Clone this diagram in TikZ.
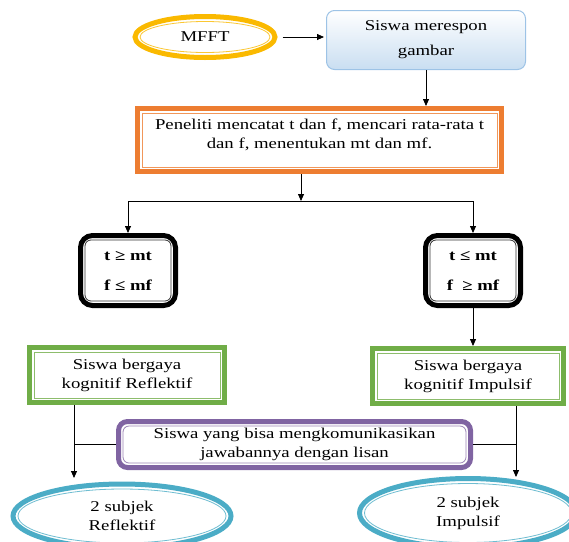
\documentclass[tikz,border=0pt]{standalone}
\usepackage{fontspec}
\setmainfont{Liberation Serif}[FakeStretch=1.25]
\usepackage{xcolor}
\usetikzlibrary{arrows.meta, positioning, calc, shapes.geometric}
\definecolor{kuning}{RGB}{250,185,0}
\definecolor{oranye}{RGB}{237,125,49}
\definecolor{hijau}{RGB}{112,173,71}
\definecolor{ungu}{RGB}{128,100,162}
\definecolor{biru}{RGB}{75,172,198}
\definecolor{birumuda}{RGB}{157,195,230}

\begin{document}
\begin{tikzpicture}[x=1pt, y=-1pt,
  every node/.style={font=\fontsize{15}{19}\selectfont, align=center},
  panah/.style={-{Triangle[length=7pt,width=6pt]}, line width=0.8pt},
  kotak/.style={rectangle, line width=5pt, fill=white, inner sep=2pt},
  oval/.style={ellipse, line width=5pt, fill=white, inner sep=0pt}]
  \clip (0,0) rectangle (569,541);
  % MFFT oval
  \node[oval, draw=kuning, minimum width=140pt, minimum height=41pt] (mfft) at (205,37) {MFFT};
  % Siswa merespon (gradient box)
  \node[rectangle, rounded corners=8pt, draw=birumuda, line width=1pt,
        top color=white, bottom color=birumuda!55, minimum width=199pt, minimum height=59pt] (respon) at (426,40) {Siswa merespon\\[6pt]gambar};
  % Peneliti
  \node[kotak, draw=oranye, minimum width=364pt, minimum height=63pt] (peneliti) at (319.5,140) {Peneliti mencatat t dan f, mencari rata-rata t\\dan f, menentukan mt dan mf.\\[-6pt]};
  % Kriteria t dan f
  \node[kotak, draw=black, rounded corners=12pt, minimum width=95pt, minimum height=70pt, font=\fontsize{15}{19}\selectfont\bfseries] (tA) at (128,270.5) {t ≥ mt\\[11pt]f ≤ mf};
  \node[kotak, draw=black, rounded corners=12pt, minimum width=95pt, minimum height=70pt, font=\fontsize{15}{19}\selectfont\bfseries] (tB) at (473,270.5) {t ≤ mt\\[11pt]f~ ≥ mf};
  % Gaya kognitif
  \node[kotak, draw=hijau, minimum width=195pt, minimum height=55pt] (gA) at (127,375) {Siswa bergaya\\kognitif Reflektif};
  \node[kotak, draw=hijau, minimum width=191pt, minimum height=55pt] (gB) at (468,376) {Siswa bergaya\\kognitif Impulsif};
  % Syarat lisan
  \node[kotak, draw=ungu, rounded corners=9pt, minimum width=352pt, minimum height=46pt] (lisan) at (294.5,444.5) {Siswa yang bisa mengkomunikasikan\\jawabannya dengan lisan};
  % Subjek
  \node[oval, draw=biru, minimum width=218pt, minimum height=64pt] (sA) at (122,516) {2 subjek\\Reflektif};
  \node[oval, draw=biru, minimum width=217pt, minimum height=69pt] (sB) at (468,513) {2 subjek\\Impulsif};

  % inner lines
  \foreach \nama/\w in {peneliti/oranye, gA/hijau, gB/hijau}
    \draw[\w!80, line width=0.8pt] ([shift={(7pt,-7pt)}]\nama.north west) rectangle ([shift={(-7pt,7pt)}]\nama.south east);
  \foreach \nama/\w in {tA/black, tB/black, lisan/ungu}
    \draw[\w!80, line width=0.8pt, rounded corners=6pt] ([shift={(7pt,-7pt)}]\nama.north west) rectangle ([shift={(-7pt,7pt)}]\nama.south east);
  \foreach \nama/\w in {mfft/kuning, sA/biru, sB/biru}
    \draw[\w!80, line width=0.8pt] let \p1=($(\nama.east)-(\nama.center)$), \p2=($(\nama.north)-(\nama.center)$)
      in (\nama.center) ellipse [x radius=\x1-7.5pt, y radius=\y2-7.5pt];

  % connectors
  \coordinate (pisah) at (301,201);
  \coordinate (ujungA) at (74,478);
  \coordinate (ujungB) at (516,477);
  \draw[panah, shorten <=5pt, shorten >=2pt] (mfft.east) -- (mfft.east -| respon.west);
  \draw[panah] (respon.south) -- (respon.south |- peneliti.north);
  \draw[panah] (peneliti.south -| pisah) -- (pisah);
  \draw[panah] (pisah) -| (tA.north);
  \draw[panah] (pisah) -| (tB.north);
  \draw[panah] (tB.south) -- (tB.south |- gB.north);
  \draw[panah] (gA.south -| ujungA) -- (ujungA);
  \draw[panah] (gB.south -| ujungB) -- (ujungB);
  \draw[line width=0.8pt] (lisan.west) -- (lisan.west -| ujungA);
  \draw[line width=0.8pt] (lisan.east) -- (lisan.east -| ujungB);
\end{tikzpicture}
\end{document}
